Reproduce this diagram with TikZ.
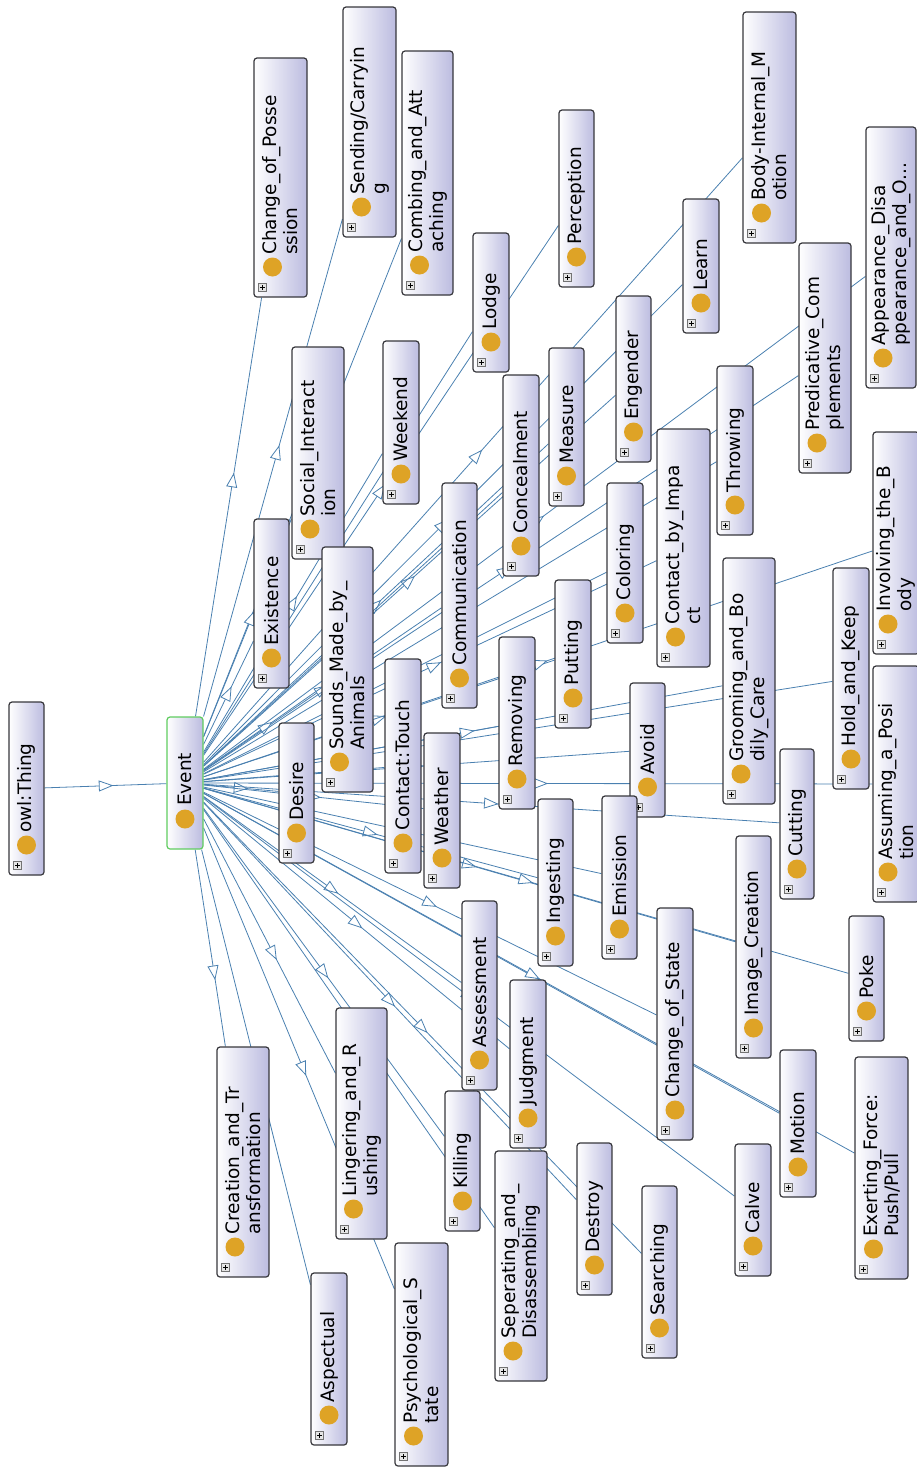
\documentclass[tikz,border=0pt]{standalone}
\usepackage{fontspec}
\setmainfont{DejaVu Sans}
\usetikzlibrary{backgrounds,decorations.markings}
\definecolor{edgec}{RGB}{74,128,176}
\definecolor{gold}{RGB}{222,163,38}
\definecolor{lav}{RGB}{188,188,224}
\definecolor{bord}{RGB}{55,55,60}
\definecolor{evg}{RGB}{96,204,96}
\tikzset{
  cbox/.style={draw=bord, line width=1.2pt, rounded corners=3pt, left color=white, right color=lav, inner sep=0pt, rotate=90},
  lbl/.style={font=\fontsize{18.5}{21}\selectfont, text=black, inner sep=0pt, align=left, rotate=90, anchor=west},
  plusbox/.style={draw=black!55, fill=black!10, line width=0.6pt},
  edge/.style={draw=edgec, line width=0.8pt},
  mid/.style={postaction={decorate}, decoration={markings, mark=at position 0.5 with {\draw[edgec, line width=0.8pt, fill=white] (-6.5pt,-5pt) -- (6.5pt,0pt) -- (-6.5pt,5pt) -- cycle;}}},
}
% name, x1, x2, y1, y2, circle shift, text
\newcommand{\ocls}[7]{%
  \node[cbox, minimum width={#5-#4}, minimum height={#3-#2}] (#1) at ({(#2+#3)/2},{(#4+#5)/2}) {};
  \fill[gold] ({(#2+#3)/2+#6},{#5-30}) circle (9.5pt);
  \node[lbl] (#1-t) at ({(#2+#3)/2},{#5-42}) {#7};
  \draw[plusbox] ({#2+4.5},{#5-13.5}) rectangle ({#2+12.5},{#5-5.5});
  \draw[line width=0.8pt] ({#2+6},{#5-9.5}) -- ({#2+11},{#5-9.5}) ({#2+8.5},{#5-12}) -- ({#2+8.5},{#5-7});
}
\begin{document}
\begin{tikzpicture}[x=1pt,y=-1pt]
\useasboundingbox (0,0) rectangle (917,1470);
% root nodes
\ocls{owl}{9}{44}{702}{875}{0}{owl:Thing}
\node[cbox, draw=evg, minimum width=132, minimum height=36] (Event) at (185,783) {};
\fill[gold] (185,819) circle (9.5pt);
\node[lbl] (Event-t) at (185,806) {Event};
% children
\ocls{cop}{254}{307}{58}{297}{-8}{Change\_of\_Posse\\ssion}
\ocls{send}{343}{396}{7}{237}{-8}{Sending/Carryin\\g}
\ocls{comb}{402}{453}{51}{295}{-8}{Combing\_and\_Att\\aching}
\ocls{soc}{292}{344}{347}{559}{-8}{Social\_Interact\\ion}
\ocls{week}{383}{419}{341}{504}{0}{Weekend}
\ocls{lodge}{473}{509}{233}{372}{0}{Lodge}
\ocls{perc}{559}{594}{110}{287}{0}{Perception}
\ocls{body}{743}{796}{12}{243}{-8}{Body-Internal\_M\\otion}
\ocls{learn}{683}{719}{199}{333}{0}{Learn}
\ocls{eng}{616}{651}{296}{462}{0}{Engender}
\ocls{meas}{549}{584}{348}{506}{0}{Measure}
\ocls{conc}{503}{539}{375}{576}{0}{Concealment}
\ocls{comm}{442}{477}{483}{708}{0}{Communication}
\ocls{exist}{254}{289}{519}{688}{0}{Existence}
\ocls{sounds}{322}{373}{547}{792}{-8}{Sounds\_Made\_by\_\\Animals}
\ocls{desire}{279}{314}{723}{863}{0}{Desire}
\ocls{touch}{385}{421}{659}{873}{0}{Contact:Touch}
\ocls{weather}{424}{460}{733}{888}{0}{Weather}
\ocls{remov}{499}{535}{637}{809}{0}{Removing}
\ocls{put}{555}{591}{580}{728}{0}{Putting}
\ocls{color}{607}{643}{483}{643}{0}{Coloring}
\ocls{impact}{657}{710}{429}{667}{-8}{Contact\_by\_Impa\\ct}
\ocls{throw}{717}{753}{366}{535}{0}{Throwing}
\ocls{pred}{799}{851}{243}{473}{-8}{Predicative\_Com\\plements}
\ocls{appear}{866}{916}{127}{388}{-8}{Appearance\_Disa\\ppearance\_and\_O...}
\ocls{invol}{873}{919}{432}{654}{-8}{Involving\_the\_B\\ody}
\ocls{hold}{833}{869}{568}{789}{0}{Hold\_and\_Keep}
\ocls{groom}{723}{775}{558}{804}{-8}{Grooming\_and\_Bo\\dily\_Care}
\ocls{avoid}{630}{665}{683}{817}{0}{Avoid}
\ocls{assum}{873}{919}{666}{902}{-8}{Assuming\_a\_Posi\\tion}
\ocls{cut}{780}{814}{749}{899}{0}{Cutting}
\ocls{emis}{602}{637}{796}{959}{0}{Emission}
\ocls{ingest}{538}{573}{799}{966}{0}{Ingesting}
\ocls{image}{736}{771}{836}{1058}{0}{Image\_Creation}
\ocls{poke}{849}{884}{916}{1041}{0}{Poke}
\ocls{cos}{657}{693}{908}{1140}{0}{Change\_of\_State}
\ocls{assess}{462}{497}{901}{1090}{0}{Assessment}
\ocls{judg}{510}{546}{980}{1148}{0}{Judgment}
\ocls{creat}{217}{269}{1047}{1277}{-8}{Creation\_and\_Tr\\ansformation}
\ocls{ling}{336}{387}{1008}{1239}{-8}{Lingering\_and\_R\\ushing}
\ocls{kill}{445}{480}{1091}{1231}{0}{Killing}
\ocls{sep}{495}{547}{1151}{1381}{-8}{Seperating\_and\_\\Disassembling}
\ocls{asp}{311}{347}{1273}{1445}{0}{Aspectual}
\ocls{psych}{395}{448}{1243}{1466}{-8}{Psychological\_S\\tate}
\ocls{destroy}{577}{612}{1143}{1295}{0}{Destroy}
\ocls{search}{642}{677}{1186}{1358}{0}{Searching}
\ocls{calve}{735}{771}{1144}{1276}{0}{Calve}
\ocls{motion}{780}{816}{1050}{1197}{0}{Motion}
\ocls{exert}{855}{908}{1057}{1279}{-8}{Exerting\_Force:\\Push/Pull}
% connectors
\begin{pgfonlayer}{background}
  \draw[edge] (owl) -- (Event);
  \path[mid] (owl.center) -- (Event.center);
  \foreach \n in {cop,send,comb,soc,week,lodge,perc,body,learn,eng,meas,conc,comm,exist,sounds,desire,touch,weather,remov,put,color,impact,throw,pred,appear,invol,hold,groom,avoid,assum,cut,emis,ingest,image,poke,cos,assess,judg,creat,ling,kill,sep,asp,psych,destroy,search,calve,motion,exert}{
    \draw[edge] (Event) -- (\n);
    \path[mid] (Event.center) -- (\n.center);
  }
\end{pgfonlayer}
\end{tikzpicture}
\end{document}
